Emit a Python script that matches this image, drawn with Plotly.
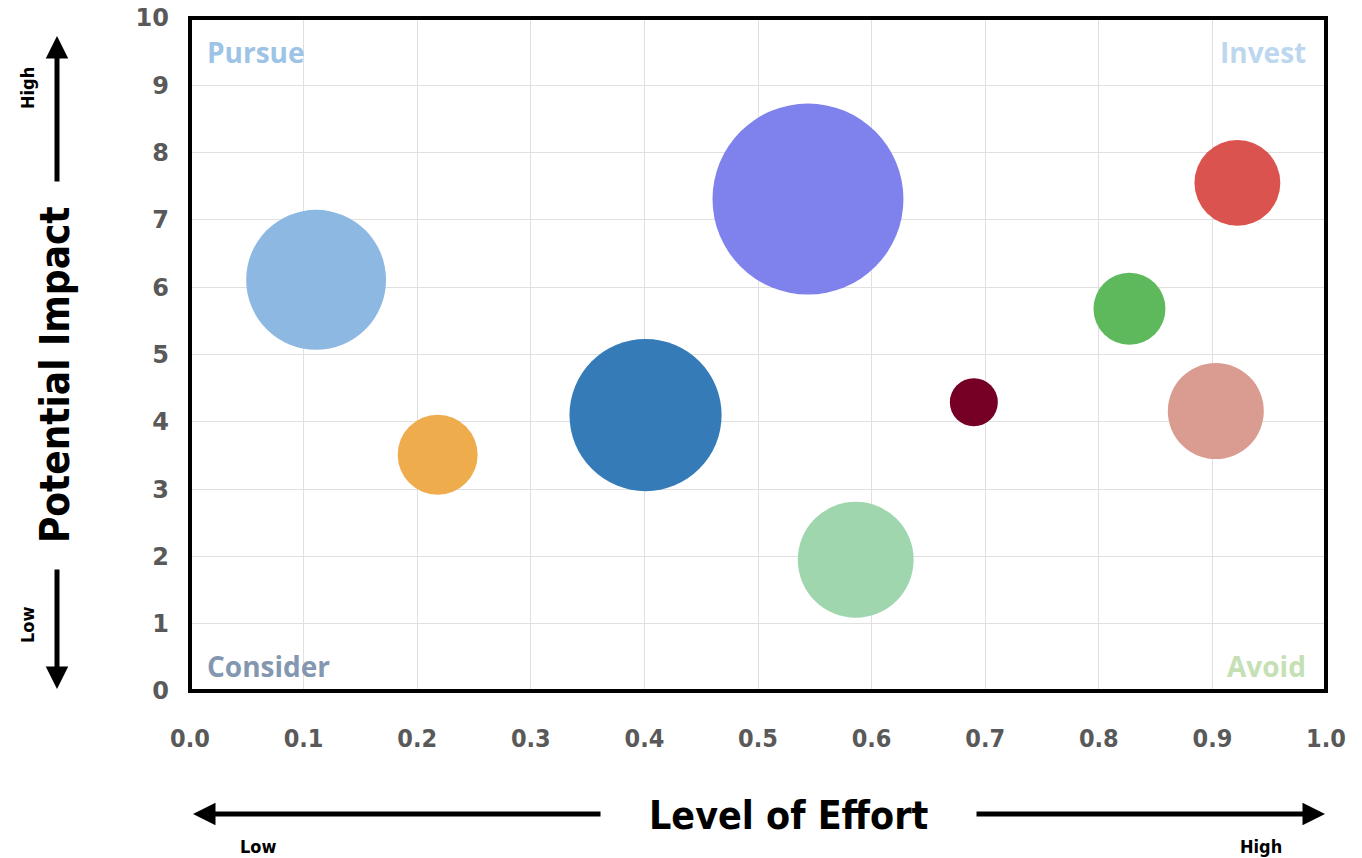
import plotly.graph_objects as go

# Data
effort = [0.111, 0.218, 0.401, 0.544, 0.586, 0.690, 0.827, 0.903, 0.922]
impact = [6.11, 3.51, 4.10, 7.31, 1.95, 4.29, 5.68, 4.16, 7.55]
bubble_size = [19.1, 6.25, 22.6, 35.6, 13.1, 2.25, 5.06, 9.0, 7.2]
colors = ["#8DB8E2", "#EFAC4D", "#357BB7", "#7F82EC", "#A0D6AE",
          "#760025", "#5DB95C", "#DA9C90", "#DB534E"]
x_ticks = [0.0, 0.1, 0.2, 0.3, 0.4, 0.5, 0.6, 0.7, 0.8, 0.9, 1.0]
y_ticks = list(range(0, 11))
quadrants = ["Pursue", "Invest", "Consider", "Avoid"]

W, H = 1362, 858
L, R, T, B = 190, 36, 18, 167
pw, ph = W - L - R, H - T - B

def px2paper(px, py):
    return (px - L) / pw, (H - B - py) / ph

fig = go.Figure()
fig.add_trace(go.Scatter(
    x=effort, y=impact, mode="markers",
    marker=dict(size=bubble_size, sizemode="area", sizeref=2 / 1024,
                color=colors, opacity=1, line=dict(width=0)),
    hoverinfo="x+y", showlegend=False,
))

narrow = "Liberation Sans Narrow, DejaVu Sans Condensed, Arial Narrow, sans-serif"

fig.update_layout(
    width=W, height=H,
    margin=dict(l=L, r=R, t=T, b=B, pad=0, autoexpand=False),
    paper_bgcolor="white", plot_bgcolor="white",
    xaxis=dict(range=[0, 1], tickvals=x_ticks, tickformat=".1f",
               showgrid=True, gridcolor="#E0E0E0", gridwidth=1,
               zeroline=False, showline=False, ticks="", automargin=False,
               ticklabelstandoff=30,
               tickfont=dict(family=narrow, size=25, color="#595959", weight="bold")),
    yaxis=dict(range=[0, 10], tickvals=y_ticks,
               showgrid=True, gridcolor="#E0E0E0", gridwidth=1,
               zeroline=False, showline=False, ticks="", automargin=False,
               ticklabelstandoff=20,
               tickfont=dict(family="DejaVu Sans", size=24, color="#595959", weight="bold")),
)

# border
fig.add_shape(type="rect", xref="paper", yref="paper", x0=0, y0=0, x1=1, y1=1,
              line=dict(color="black", width=4), layer="above")

# quadrant labels
qfont = "Open Sans, DejaVu Sans, sans-serif"
qspec = [
    ("Pursue", 205, 52, "left", "#9DC3E6"),
    ("Invest", 1308, 52, "right", "#BDD7EE"),
    ("Consider", 205, 666, "left", "#8497B0"),
    ("Avoid", 1308, 666, "right", "#C5E0B4"),
]
for (txt, px, py, al, col), name in zip(qspec, quadrants):
    x, y = px2paper(px, py)
    fig.add_annotation(text=name, x=x, y=y, xref="paper", yref="paper",
                       xanchor=al, yanchor="middle", showarrow=False,
                       font=dict(family=qfont, size=28, color=col, weight="bold"))

# axis titles
x, y = px2paper(788, 815)
fig.add_annotation(text="Level of Effort", x=x, y=y, xref="paper", yref="paper",
                   showarrow=False, xanchor="center", yanchor="middle",
                   font=dict(family=narrow, size=39, color="black", weight="bold"))
x, y = px2paper(55, 375)
fig.add_annotation(text="Potential Impact", x=x, y=y, xref="paper", yref="paper",
                   showarrow=False, xanchor="center", yanchor="middle", textangle=-90,
                   font=dict(family=narrow, size=40, color="black", weight="bold"))

# Low / High labels
for txt, px, py, ang in [("Low", 258, 846, 0), ("High", 1261, 846, 0),
                         ("High", 28, 88, -90), ("Low", 27, 625, -90)]:
    x, y = px2paper(px, py)
    fig.add_annotation(text=txt, x=x, y=y, xref="paper", yref="paper",
                       showarrow=False, xanchor="center", yanchor="middle", textangle=ang,
                       font=dict(family=narrow, size=18, color="black", weight="bold"))

# arrows: (head_px, head_py, tail_px, tail_py)
for hx, hy, tx, ty in [(57, 36, 57, 183), (57, 689, 57, 568),
                       (193, 814, 602, 814), (1325, 814, 975, 814)]:
    x, y = px2paper(hx, hy)
    fig.add_annotation(text="", x=x, y=y, xref="paper", yref="paper",
                       ax=tx - hx, ay=ty - hy, showarrow=True,
                       arrowhead=2, arrowsize=0.9, arrowwidth=5, arrowcolor="black",
                       standoff=0, startstandoff=0)

fig.write_html("out.html")
